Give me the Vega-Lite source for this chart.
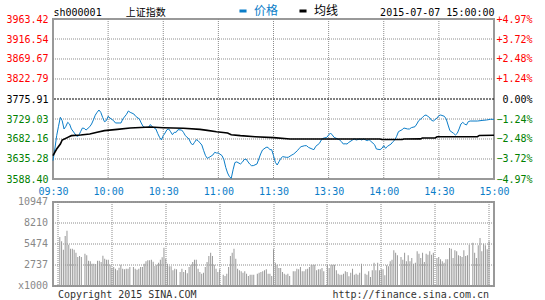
{
  "$schema": "https://vega.github.io/schema/vega-lite/v6.json",
  "padding": {"left": 4, "top": 5, "right": 15, "bottom": 1},
  "background": "white",
  "spacing": 23,
  "bounds": "flush",
  "config": {
    "font": "DejaVu Sans Mono",
    "view": {"stroke": "#999999", "strokeWidth": 2},
    "axis": {
      "labelFont": "DejaVu Sans Mono",
      "labelFontSize": 10,
      "domain": false,
      "ticks": false,
      "grid": false,
      "labelOverlap": false
    }
  },
  "datasets": {
    "priceLevels": [{"level": 3635.28}, {"level": 3682.16}, {"level": 3729.03}, {"level": 3822.79}, {"level": 3869.67}, {"level": 3916.54}],
    "halfHours": [{"t": 30}, {"t": 60}, {"t": 90}, {"t": 120}, {"t": 150}, {"t": 180}, {"t": 210}],
    "price": [
      {"t":0,"v":3631.4,"s":"价格"},{"t":1,"v":3658.7,"s":"价格"},{"t":2,"v":3690,"s":"价格"},{"t":3,"v":3712,"s":"价格"},{"t":4,"v":3733,"s":"价格"},{"t":5,"v":3725,"s":"价格"},{"t":6,"v":3705.6,"s":"价格"},{"t":7,"v":3711.8,"s":"价格"},{"t":8,"v":3721.2,"s":"价格"},{"t":9,"v":3717.3,"s":"价格"},{"t":10,"v":3705.6,"s":"价格"},{"t":12,"v":3693.9,"s":"价格"},{"t":13,"v":3688.4,"s":"价格"},{"t":14,"v":3690,"s":"价格"},{"t":15,"v":3699.3,"s":"价格"},{"t":16,"v":3707.9,"s":"价格"},{"t":17,"v":3707,"s":"价格"},{"t":18,"v":3703.2,"s":"价格"},{"t":20,"v":3711,"s":"价格"},{"t":21,"v":3717.3,"s":"价格"},{"t":22,"v":3727,"s":"价格"},{"t":23,"v":3738,"s":"价格"},{"t":24,"v":3744.7,"s":"价格"},{"t":25,"v":3750.1,"s":"价格"},{"t":26,"v":3744.7,"s":"价格"},{"t":27,"v":3732.9,"s":"价格"},{"t":28,"v":3722.8,"s":"价格"},{"t":29,"v":3725.1,"s":"价格"},{"t":30,"v":3735.3,"s":"价格"},{"t":31,"v":3731.4,"s":"价格"},{"t":33,"v":3725.1,"s":"价格"},{"t":34,"v":3719.7,"s":"价格"},{"t":36,"v":3719.7,"s":"价格"},{"t":37,"v":3719.7,"s":"价格"},{"t":38,"v":3729,"s":"价格"},{"t":40,"v":3740,"s":"价格"},{"t":41,"v":3747.8,"s":"价格"},{"t":42,"v":3744.7,"s":"价格"},{"t":44,"v":3740.8,"s":"价格"},{"t":45,"v":3735.3,"s":"价格"},{"t":47,"v":3729,"s":"价格"},{"t":48,"v":3719.7,"s":"价格"},{"t":49,"v":3711.8,"s":"价格"},{"t":50,"v":3709.5,"s":"价格"},{"t":52,"v":3709.5,"s":"价格"},{"t":53,"v":3716,"s":"价格"},{"t":54,"v":3711,"s":"价格"},{"t":56,"v":3705.6,"s":"价格"},{"t":57,"v":3695,"s":"价格"},{"t":58,"v":3686,"s":"价格"},{"t":59,"v":3680,"s":"价格"},{"t":60,"v":3690,"s":"价格"},{"t":61,"v":3696.2,"s":"价格"},{"t":62,"v":3704,"s":"价格"},{"t":63,"v":3705.6,"s":"价格"},{"t":64,"v":3699.3,"s":"价格"},{"t":65,"v":3692.3,"s":"价格"},{"t":66,"v":3697.8,"s":"价格"},{"t":67,"v":3697.8,"s":"价格"},{"t":68,"v":3704,"s":"价格"},{"t":70,"v":3703.2,"s":"价格"},{"t":71,"v":3697.8,"s":"价格"},{"t":72,"v":3690,"s":"价格"},{"t":74,"v":3682.2,"s":"价格"},{"t":75,"v":3672.8,"s":"价格"},{"t":76,"v":3668.1,"s":"价格"},{"t":77,"v":3674.3,"s":"价格"},{"t":78,"v":3680.6,"s":"价格"},{"t":79,"v":3678,"s":"价格"},{"t":80,"v":3673,"s":"价格"},{"t":81,"v":3668.1,"s":"价格"},{"t":82,"v":3654.8,"s":"价格"},{"t":83,"v":3643.1,"s":"价格"},{"t":84,"v":3636.8,"s":"价格"},{"t":85,"v":3639.2,"s":"价格"},{"t":87,"v":3644.7,"s":"价格"},{"t":88,"v":3650.9,"s":"价格"},{"t":89,"v":3649.4,"s":"价格"},{"t":90,"v":3649.4,"s":"价格"},{"t":92,"v":3643.1,"s":"价格"},{"t":93,"v":3633.7,"s":"价格"},{"t":94,"v":3615.7,"s":"价格"},{"t":95,"v":3602.5,"s":"价格"},{"t":96,"v":3593.9,"s":"价格"},{"t":97,"v":3590,"s":"价格"},{"t":98,"v":3610,"s":"价格"},{"t":99,"v":3627,"s":"价格"},{"t":100,"v":3628.5,"s":"价格"},{"t":102,"v":3623.6,"s":"价格"},{"t":103,"v":3627.5,"s":"价格"},{"t":104,"v":3633.7,"s":"价格"},{"t":105,"v":3635.3,"s":"价格"},{"t":107,"v":3623.6,"s":"价格"},{"t":108,"v":3619.7,"s":"价格"},{"t":109,"v":3619.7,"s":"价格"},{"t":111,"v":3623.6,"s":"价格"},{"t":112,"v":3635.3,"s":"价格"},{"t":113,"v":3647,"s":"价格"},{"t":114,"v":3656.4,"s":"价格"},{"t":116,"v":3662.6,"s":"价格"},{"t":117,"v":3662.6,"s":"价格"},{"t":118,"v":3657.2,"s":"价格"},{"t":119,"v":3657.2,"s":"价格"},{"t":120,"v":3643.1,"s":"价格"},{"t":121,"v":3627.5,"s":"价格"},{"t":122,"v":3621.2,"s":"价格"},{"t":123,"v":3629,"s":"价格"},{"t":124,"v":3636.8,"s":"价格"},{"t":125,"v":3640.8,"s":"价格"},{"t":127,"v":3639.2,"s":"价格"},{"t":128,"v":3639.2,"s":"价格"},{"t":130,"v":3644.7,"s":"价格"},{"t":131,"v":3647,"s":"价格"},{"t":133,"v":3654.8,"s":"价格"},{"t":134,"v":3660.3,"s":"价格"},{"t":135,"v":3664.2,"s":"价格"},{"t":137,"v":3666.5,"s":"价格"},{"t":138,"v":3666.5,"s":"价格"},{"t":139,"v":3662.6,"s":"价格"},{"t":141,"v":3658.7,"s":"价格"},{"t":142,"v":3657.2,"s":"价格"},{"t":143,"v":3665,"s":"价格"},{"t":145,"v":3672,"s":"价格"},{"t":146,"v":3679.8,"s":"价格"},{"t":147,"v":3683.7,"s":"价格"},{"t":149,"v":3686,"s":"价格"},{"t":150,"v":3691.5,"s":"价格"},{"t":151,"v":3696.2,"s":"价格"},{"t":152,"v":3691.5,"s":"价格"},{"t":153,"v":3686,"s":"价格"},{"t":155,"v":3682.2,"s":"价格"},{"t":156,"v":3679.8,"s":"价格"},{"t":157,"v":3675.9,"s":"价格"},{"t":158,"v":3670.4,"s":"价格"},{"t":159,"v":3671,"s":"价格"},{"t":160,"v":3670.4,"s":"价格"},{"t":161,"v":3674.3,"s":"价格"},{"t":163,"v":3679.8,"s":"价格"},{"t":164,"v":3682.2,"s":"价格"},{"t":165,"v":3679.8,"s":"价格"},{"t":167,"v":3682.2,"s":"价格"},{"t":168,"v":3679.8,"s":"价格"},{"t":169,"v":3682.2,"s":"价格"},{"t":171,"v":3678.3,"s":"价格"},{"t":172,"v":3680.6,"s":"价格"},{"t":173,"v":3676.7,"s":"价格"},{"t":175,"v":3668.9,"s":"价格"},{"t":176,"v":3658.7,"s":"价格"},{"t":178,"v":3657.2,"s":"价格"},{"t":179,"v":3660.3,"s":"价格"},{"t":180,"v":3666.5,"s":"价格"},{"t":181,"v":3660.3,"s":"价格"},{"t":182,"v":3665,"s":"价格"},{"t":184,"v":3670.4,"s":"价格"},{"t":185,"v":3675.9,"s":"价格"},{"t":186,"v":3679.8,"s":"价格"},{"t":187,"v":3688.4,"s":"价格"},{"t":188,"v":3699.3,"s":"价格"},{"t":190,"v":3704,"s":"价格"},{"t":191,"v":3707.9,"s":"价格"},{"t":193,"v":3705.6,"s":"价格"},{"t":194,"v":3705.6,"s":"价格"},{"t":195,"v":3708.7,"s":"价格"},{"t":197,"v":3711,"s":"价格"},{"t":198,"v":3717.3,"s":"价格"},{"t":199,"v":3725.1,"s":"价格"},{"t":201,"v":3732.2,"s":"价格"},{"t":202,"v":3736.9,"s":"价格"},{"t":203,"v":3738.4,"s":"价格"},{"t":204,"v":3735.3,"s":"价格"},{"t":205,"v":3732.2,"s":"价格"},{"t":206,"v":3725.9,"s":"价格"},{"t":207,"v":3724.3,"s":"价格"},{"t":209,"v":3731.4,"s":"价格"},{"t":210,"v":3736.9,"s":"价格"},{"t":211,"v":3738.4,"s":"价格"},{"t":213,"v":3735.3,"s":"价格"},{"t":214,"v":3729,"s":"价格"},{"t":215,"v":3715,"s":"价格"},{"t":216,"v":3701.7,"s":"价格"},{"t":218,"v":3695.4,"s":"价格"},{"t":219,"v":3691.5,"s":"价格"},{"t":220,"v":3695.4,"s":"价格"},{"t":221,"v":3705.6,"s":"价格"},{"t":222,"v":3717.3,"s":"价格"},{"t":223,"v":3721.2,"s":"价格"},{"t":224,"v":3717.3,"s":"价格"},{"t":225,"v":3715,"s":"价格"},{"t":226,"v":3722.8,"s":"价格"},{"t":227,"v":3724.3,"s":"价格"},{"t":231,"v":3724.3,"s":"价格"},{"t":234,"v":3725.9,"s":"价格"},{"t":236,"v":3726.7,"s":"价格"},{"t":238,"v":3728.3,"s":"价格"},{"t":240,"v":3728.3,"s":"价格"}
    ],
    "avg": [
      {"t":0,"v":3643,"s":"均线"},{"t":2,"v":3658.7,"s":"均线"},{"t":4,"v":3670.4,"s":"均线"},{"t":5,"v":3679.8,"s":"均线"},{"t":8,"v":3686,"s":"均线"},{"t":10,"v":3690,"s":"均线"},{"t":15,"v":3691.5,"s":"均线"},{"t":20,"v":3693.9,"s":"均线"},{"t":24,"v":3697.8,"s":"均线"},{"t":28,"v":3701.7,"s":"均线"},{"t":35,"v":3704.8,"s":"均线"},{"t":42,"v":3707.9,"s":"均线"},{"t":53,"v":3710.3,"s":"均线"},{"t":60,"v":3708.7,"s":"均线"},{"t":71,"v":3707.2,"s":"均线"},{"t":80,"v":3704.8,"s":"均线"},{"t":84,"v":3702.4,"s":"均线"},{"t":89,"v":3699.3,"s":"均线"},{"t":95,"v":3696.2,"s":"均线"},{"t":97,"v":3692.3,"s":"均线"},{"t":102,"v":3690,"s":"均线"},{"t":110,"v":3687.6,"s":"均线"},{"t":120,"v":3685.3,"s":"均线"},{"t":129,"v":3682.2,"s":"均线"},{"t":160,"v":3682.2,"s":"均线"},{"t":178,"v":3682.2,"s":"均线"},{"t":179,"v":3681,"s":"均线"},{"t":190,"v":3681,"s":"均线"},{"t":191,"v":3682.2,"s":"均线"},{"t":200,"v":3682.5,"s":"均线"},{"t":201,"v":3684.5,"s":"均线"},{"t":208,"v":3684.5,"s":"均线"},{"t":209,"v":3687.5,"s":"均线"},{"t":231,"v":3687.5,"s":"均线"},{"t":232,"v":3690.5,"s":"均线"},{"t":240,"v":3690.8,"s":"均线"}
    ],
    "vol": [
      {"t":1,"vol":6386},{"t":2,"vol":5821},{"t":3,"vol":4735},{"t":4,"vol":6516},{"t":5,"vol":7211},{"t":6,"vol":5387},{"t":7,"vol":4865},{"t":8,"vol":4865},{"t":9,"vol":4735},{"t":10,"vol":4344},{"t":11,"vol":3779},{"t":12,"vol":3910},{"t":13,"vol":3779},{"t":15,"vol":4214},{"t":16,"vol":3996},{"t":17,"vol":3301},{"t":18,"vol":3215},{"t":19,"vol":2910},{"t":20,"vol":2910},{"t":21,"vol":2867},{"t":22,"vol":3301},{"t":23,"vol":3301},{"t":24,"vol":3128},{"t":25,"vol":3953},{"t":26,"vol":3562},{"t":27,"vol":3432},{"t":28,"vol":3432},{"t":29,"vol":2780},{"t":30,"vol":2389},{"t":31,"vol":2476},{"t":32,"vol":2259},{"t":33,"vol":2042},{"t":34,"vol":2389},{"t":35,"vol":2780},{"t":36,"vol":2259},{"t":37,"vol":2172},{"t":38,"vol":2259},{"t":39,"vol":2259},{"t":40,"vol":2476},{"t":42,"vol":2476},{"t":43,"vol":2259},{"t":44,"vol":2129},{"t":45,"vol":2259},{"t":46,"vol":2476},{"t":47,"vol":2476},{"t":48,"vol":2910},{"t":49,"vol":3215},{"t":50,"vol":3345},{"t":51,"vol":3345},{"t":52,"vol":3432},{"t":53,"vol":3171},{"t":54,"vol":2606},{"t":55,"vol":2780},{"t":56,"vol":3041},{"t":57,"vol":3432},{"t":58,"vol":3736},{"t":59,"vol":4996},{"t":60,"vol":3562},{"t":61,"vol":2910},{"t":62,"vol":2563},{"t":63,"vol":2563},{"t":64,"vol":2042},{"t":65,"vol":2259},{"t":66,"vol":2172},{"t":68,"vol":1824},{"t":69,"vol":2259},{"t":70,"vol":1824},{"t":71,"vol":2085},{"t":72,"vol":1651},{"t":73,"vol":2476},{"t":74,"vol":2780},{"t":75,"vol":3128},{"t":76,"vol":3432},{"t":77,"vol":3432},{"t":78,"vol":2259},{"t":79,"vol":1824},{"t":80,"vol":1607},
      {"t":81,"vol":1738},{"t":82,"vol":2476},{"t":83,"vol":3128},{"t":84,"vol":3910},{"t":85,"vol":4344},{"t":86,"vol":3910},{"t":87,"vol":2780},{"t":88,"vol":2259},{"t":89,"vol":1824},{"t":90,"vol":2172},{"t":92,"vol":1477},{"t":93,"vol":1303},{"t":94,"vol":1607},{"t":95,"vol":2476},{"t":96,"vol":3910},{"t":97,"vol":4344},{"t":98,"vol":4865},{"t":99,"vol":3562},{"t":100,"vol":2259},{"t":101,"vol":2042},{"t":102,"vol":1911},{"t":103,"vol":1738},{"t":104,"vol":1911},{"t":105,"vol":1607},{"t":106,"vol":1303},{"t":107,"vol":1477},{"t":108,"vol":1477},{"t":109,"vol":1477},{"t":111,"vol":1607},{"t":112,"vol":1738},{"t":113,"vol":1824},{"t":114,"vol":1911},{"t":115,"vol":2042},{"t":116,"vol":2172},{"t":117,"vol":1607},{"t":118,"vol":1607},{"t":119,"vol":1303},{"t":120,"vol":4778},{"t":121,"vol":3041},{"t":122,"vol":2780},{"t":123,"vol":2346},{"t":124,"vol":2346},{"t":125,"vol":1824},{"t":126,"vol":1607},{"t":127,"vol":1477},{"t":128,"vol":1607},{"t":129,"vol":1303},{"t":131,"vol":1911},{"t":132,"vol":1911},{"t":133,"vol":2259},{"t":134,"vol":2172},{"t":135,"vol":2476},{"t":136,"vol":1911},{"t":137,"vol":1911},{"t":138,"vol":2172},{"t":139,"vol":2259},{"t":140,"vol":2476},{"t":141,"vol":2780},{"t":142,"vol":2780},{"t":143,"vol":2780},{"t":144,"vol":2042},{"t":145,"vol":2172},{"t":146,"vol":2172},{"t":147,"vol":2346},{"t":148,"vol":1911},{"t":150,"vol":2780},{"t":151,"vol":2346},{"t":152,"vol":2780},{"t":153,"vol":2780},{"t":154,"vol":2780},{"t":155,"vol":2042},{"t":156,"vol":1607},{"t":157,"vol":1477},{"t":158,"vol":1477},{"t":159,"vol":1607},
      {"t":160,"vol":1911},{"t":161,"vol":1824},{"t":162,"vol":1260},{"t":163,"vol":1738},{"t":164,"vol":2259},{"t":165,"vol":1477},{"t":166,"vol":1607},{"t":167,"vol":1477},{"t":168,"vol":1738},{"t":169,"vol":2910},{"t":171,"vol":1607},{"t":172,"vol":1477},{"t":173,"vol":1911},{"t":174,"vol":1173},{"t":175,"vol":2042},{"t":176,"vol":3041},{"t":177,"vol":2042},{"t":178,"vol":3041},{"t":179,"vol":2042},{"t":180,"vol":2172},{"t":181,"vol":2172},{"t":182,"vol":1390},{"t":183,"vol":2693},{"t":184,"vol":2563},{"t":185,"vol":3215},{"t":186,"vol":3432},{"t":187,"vol":4648},{"t":188,"vol":4344},{"t":189,"vol":3996},{"t":191,"vol":3779},{"t":192,"vol":3432},{"t":193,"vol":4344},{"t":194,"vol":3215},{"t":195,"vol":3996},{"t":196,"vol":3215},{"t":197,"vol":3649},{"t":198,"vol":2910},{"t":199,"vol":3041},{"t":200,"vol":4518},{"t":201,"vol":4214},{"t":202,"vol":3649},{"t":203,"vol":4344},{"t":204,"vol":3128},{"t":205,"vol":4214},{"t":206,"vol":4083},{"t":207,"vol":4518},{"t":208,"vol":4083},{"t":209,"vol":4344},{"t":211,"vol":3649},{"t":212,"vol":3779},{"t":213,"vol":3475},{"t":214,"vol":3215},{"t":215,"vol":3041},{"t":216,"vol":3475},{"t":217,"vol":3475},{"t":218,"vol":4952},{"t":219,"vol":4865},{"t":220,"vol":3649},{"t":221,"vol":4648},{"t":222,"vol":4518},{"t":223,"vol":3996},{"t":224,"vol":3910},{"t":225,"vol":3779},{"t":226,"vol":4648},{"t":227,"vol":3910},{"t":228,"vol":3996},{"t":229,"vol":5387},{"t":231,"vol":5647},{"t":232,"vol":4344},{"t":233,"vol":3649},{"t":234,"vol":5300},{"t":235,"vol":6255},{"t":236,"vol":4518},{"t":237,"vol":5517},{"t":238,"vol":5300},{"t":239,"vol":4778},{"t":240,"vol":5821}
    ]
  },
  "vconcat": [
    {
      "width": 441,
      "height": 160,
      "layer": [
        {
          "data": {"name": "priceLevels"},
          "mark": {"type": "rule", "color": "#8c8c8c", "strokeDash": [1, 1], "strokeWidth": 1},
          "encoding": {
            "y": {"field": "level", "type": "quantitative", "scale": {"domain": [3588.40, 3963.42], "nice": false, "zero": false}, "axis": null}
          }
        },
        {
          "data": {"name": "halfHours"},
          "mark": {"type": "rule", "color": "#8c8c8c", "strokeDash": [1, 1], "strokeWidth": 1},
          "encoding": {
            "x": {"field": "t", "type": "quantitative", "scale": {"domain": [0, 240], "nice": false}, "axis": null}
          }
        },
        {
          "data": {"values": [{"prevClose": 3775.91}]},
          "mark": {"type": "rule", "color": "#000000", "strokeDash": [2, 1], "strokeWidth": 1},
          "encoding": {
            "y": {"field": "prevClose", "type": "quantitative", "axis": null}
          }
        },
        {
          "data": {"name": "price"},
          "mark": {"type": "line", "strokeWidth": 1},
          "encoding": {
            "x": {
              "field": "t", "type": "quantitative",
              "axis": {
                "orient": "bottom",
                "values": [0, 30, 60, 90, 120, 150, 180, 210, 240],
                "labelExpr": "datum.value == 0 ? '09:30' : datum.value == 30 ? '10:00' : datum.value == 60 ? '10:30' : datum.value == 90 ? '11:00' : datum.value == 120 ? '11:30' : datum.value == 150 ? '13:30' : datum.value == 180 ? '14:00' : datum.value == 210 ? '14:30' : '15:00'",
                "labelColor": "#0b7dc8",
                "labelPadding": 7,
                "labelFlush": false,
                "labelAlign": "center",
                "title": null
              }
            },
            "y": {
              "field": "v", "type": "quantitative",
              "axis": {
                "orient": "left",
                "values": [3588.40, 3635.28, 3682.16, 3729.03, 3775.91, 3822.79, 3869.67, 3916.54, 3963.42],
                "format": ".2f",
                "labelPadding": 4.86,
                "labelColor": {"condition": [{"test": "datum.value > 3776", "value": "#ff0000"}, {"test": "datum.value < 3775", "value": "#008000"}], "value": "#000000"},
                "title": null
              }
            },
            "color": {
              "field": "s", "type": "nominal",
              "scale": {"domain": ["价格", "均线"], "range": ["#0b7dc8", "#000000"]},
              "legend": {
                "orient": "none",
                "legendX": 184,
                "legendY": -14,
                "direction": "horizontal",
                "title": null,
                "padding": 0,
                "symbolType": "stroke",
                "symbolSize": 50,
                "symbolStrokeWidth": 3,
                "labelFont": "Noto Sans CJK SC",
                "labelFontSize": 12,
                "labelOffset": 5,
                "columnPadding": 14,
                "encode": {
                  "labels": {"update": {"fill": {"signal": "datum.label === '价格' ? '#0b7dc8' : '#000000'"}}},
                  "symbols": {"update": {"strokeWidth": {"value": 3}}}
                }
              }
            }
          }
        },
        {
          "data": {"name": "avg"},
          "mark": {"type": "line", "strokeWidth": 1.6},
          "encoding": {
            "x": {
              "field": "t", "type": "quantitative",
              "axis": {
                "orient": "top",
                "values": [240],
                "labelExpr": "'2015-07-07 15:00:00'",
                "labelAlign": "right",
                "labelColor": "#000000",
                "labelPadding": 2,
                "labelFlush": false,
                "title": "sh000001\u00a0\u00a0\u00a0\u00a0上证指数",
                "titleFont": "DejaVu Sans Mono, Noto Sans CJK SC",
                "titleFontSize": 10,
                "titleFontWeight": "normal",
                "titleColor": "#000000",
                "titleAnchor": "start",
                "titleAlign": "left",
                "titleBaseline": "bottom",
                "titleY": -2
              }
            },
            "y": {
              "field": "v", "type": "quantitative",
              "axis": {
                "orient": "right",
                "values": [3588.40, 3635.28, 3682.16, 3729.03, 3775.91, 3822.79, 3869.67, 3916.54, 3963.42],
                "labelExpr": "(datum.value > 3776 ? '+' : '') + format((datum.value / 3775.91 - 1) * 100, '.2f') + '%'",
                "labelAlign": "right",
                "labelPadding": 38,
                "labelColor": {"condition": [{"test": "datum.value > 3776", "value": "#ff0000"}, {"test": "datum.value < 3775", "value": "#008000"}], "value": "#000000"},
                "title": null
              }
            },
            "color": {"field": "s", "type": "nominal"}
          }
        }
      ]
    },
    {
      "width": 441,
      "height": 84,
      "data": {"name": "vol"},
      "mark": {"type": "bar", "width": 1, "color": "#999999"},
      "encoding": {
        "x": {
          "field": "t", "type": "quantitative",
          "scale": {"domain": [0, 240], "nice": false},
          "axis": {
            "orient": "bottom",
            "values": [0, 30, 60, 90, 120, 150, 180, 210, 240],
            "labelFlush": false,
            "labelAlign": {"condition": {"test": "datum.value == 0", "value": "left"}, "value": "right"},
            "labelExpr": "datum.value == 0 ? 'Copyright 2015 SINA.COM' : datum.value == 240 ? 'http://finance.sina.com.cn' : ''",
            "labelColor": "#333333",
            "labelPadding": 4,
            "grid": true,
            "gridColor": "#8c8c8c",
            "gridDash": [1, 1],
            "translate": 0,
            "title": null
          }
        },
        "y": {
          "field": "vol", "type": "quantitative",
          "scale": {"domain": [0, 10947], "nice": false},
          "axis": {
            "orient": "left",
            "values": [0, 2737, 5474, 8210, 10947],
            "format": "d",
            "labelExpr": "datum.value == 0 ? 'x1000' : datum.label",
            "labelColor": "#888888",
            "labelPadding": 4.86,
            "grid": true,
            "gridColor": "#8c8c8c",
            "gridDash": [1, 1],
            "translate": 0,
            "title": null
          }
        }
      }
    }
  ]
}
